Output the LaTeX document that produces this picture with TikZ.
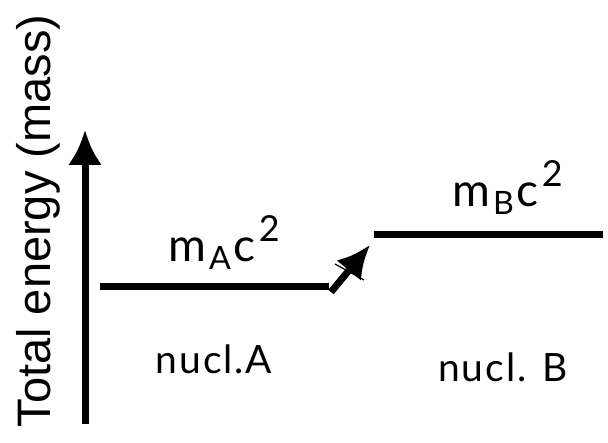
\documentclass[tikz,border=0pt]{standalone}
\usepackage{fontspec}
\setmainfont[LetterSpace=5]{Lato}
\newfontfamily\axisfont{Liberation Sans}
\usetikzlibrary{arrows.meta}
\newcommand{\mlev}[1]{m\kern3pt\raisebox{-8pt}{\scalebox{.7}{#1}}\kern3pt c\kern3pt\raisebox{20pt}{\scalebox{.78}{2}}}
\tikzset{level/.style={line width=7pt},
  lab/.style={font=\fontsize{46}{50}\selectfont, inner sep=0pt, anchor=base},
  nuc/.style={font=\fontsize{39}{42}\selectfont, inner sep=0pt, anchor=base}}

\begin{document}
\begin{tikzpicture}[x=1pt,y=-1pt]
  \useasboundingbox (0,0) rectangle (608,443);
  \coordinate (axbot) at (85,424);
  \coordinate (axtop) at (85,130);
  \draw [line width=7pt, -{Latex[length=35pt,width=34pt]}] (axbot) -- (axtop);
  \node [rotate=90, anchor=base, inner sep=0pt, font=\axisfont\fontsize{47}{50}\selectfont] (ylab) at (50,221) {Total energy (mass)};
  \coordinate (a1) at (100,287);
  \coordinate (a2) at (329,287);
  \coordinate (b1) at (374,235);
  \coordinate (b2) at (603,235);
  \draw [level] (a1) -- (a2);
  \draw [level] (b1) -- (b2);
  \node [lab] (mA) at (224,262) {\mlev{A}};
  \node [lab] (mB) at (507.5,207) {\mlev{B}};
  \node [nuc] (nA) at (214,374) {nucl.A};
  \node [nuc] (nB) at (503,382) {nucl. B};
  \coordinate (up0) at (331,292);
  \coordinate (up1) at (370,245);
  \draw [line width=7pt, -{Latex[length=33pt,width=32pt]}] (up0) -- (up1);
  \coordinate (s0) at (335,264);
  \coordinate (s1) at (364,280);
  \draw [line width=1.2pt] (s0) -- (s1);
\end{tikzpicture}
\end{document}
